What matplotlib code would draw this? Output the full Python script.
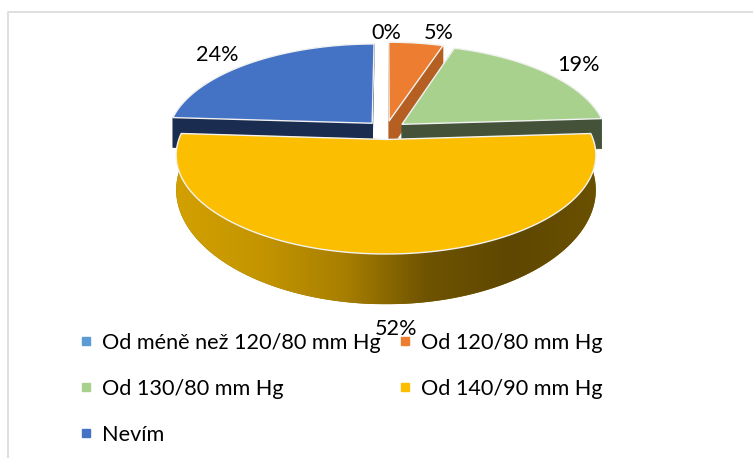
import numpy as np
import matplotlib
matplotlib.use('Agg')
import matplotlib.pyplot as plt
from matplotlib.lines import Line2D
from matplotlib.patches import Polygon
from matplotlib.colors import LinearSegmentedColormap

categories = ['Od méně než 120/80 mm Hg', 'Od 120/80 mm Hg', 'Od 130/80 mm Hg', 'Od 140/90 mm Hg', 'Nevím']
values = [0, 5, 19, 52, 24]
top_colors = ['#5B9BD5', '#ED7D31', '#A9D18E', '#FBBE00', '#4472C4']
side_colors = ['#2A4A68', '#B55F22', '#435238', '#8A6A00', '#1A2C50']

plt.rcParams['font.family'] = ['Lato', 'DejaVu Sans']
TEXT_SIZE = 15.6

# perspective settings of the pie, in pixels
CX, CY = 386, 130
BX, AY = 204, 93.5
K = 0.155
H = 31.5
EXPLODE = 0.1


def project(xd, yd, z=0.0):
    w = 1 + K*yd
    # rim gets thinner towards the back, faster than the plain perspective
    return CX + BX*xd/w, CY - AY*yd/w + H*z/w**2.5


def arc(t0, t1, ex, ey, z=0.0, n=120):
    t = np.linspace(t0, t1, n)
    return np.column_stack(project(ex + np.sin(t), ey + np.cos(t), z))


fig = plt.figure(figsize=(7.53, 4.58), dpi=100)
ax = fig.add_axes([0, 0, 1, 1])
ax.set_axis_off()

# chart frame
ax.plot([8, 8, 753], [458, 12, 12], color='#D9D9D9', lw=1.2)

edges = np.radians(np.cumsum([0] + values)*3.6)
slices = [(i, edges[i], edges[i+1]) for i in range(len(values)) if values[i] > 0]
# back slices first, the big front one last
slices.sort(key=lambda s: np.cos((s[1] + s[2])/2), reverse=True)

grad = LinearSegmentedColormap.from_list('rim', ['#D2A000', '#C49500', '#A87F00', '#6E5300', '#5E4700', '#6A5000'])

for n, (i, t0, t1) in enumerate(slices):
    z = 2 + n*0.1
    mid = (t0 + t1)/2
    ex, ey = EXPLODE*np.sin(mid), EXPLODE*np.cos(mid)
    apex = np.array(project(ex, ey))
    apex_low = np.array(project(ex, ey, 1.0))
    top_arc = arc(t0, t1, ex, ey)
    low_arc = arc(t0, t1, ex, ey, 1.0)

    # cut faces
    for j in (0, -1):
        ax.add_patch(Polygon([apex, top_arc[j], low_arc[j], apex_low], closed=True,
                             fc=side_colors[i], ec=side_colors[i], lw=0.5, zorder=z))

    # outer rim
    rim = np.vstack([top_arc, low_arc[::-1]])
    rim_patch = Polygon(rim, closed=True, fc=side_colors[i], ec='none', zorder=z)
    ax.add_patch(rim_patch)
    if values[i] == max(values):
        x0, x1 = rim[:, 0].min(), rim[:, 0].max()
        y0, y1 = rim[:, 1].min(), rim[:, 1].max()
        im = ax.imshow(np.linspace(0, 1, 256)[None, :], cmap=grad, aspect='auto',
                       extent=[x0, x1, y1, y0], zorder=z)
        im.set_clip_path(rim_patch)

    ax.add_patch(Polygon(np.vstack([apex, top_arc]), closed=True, fc=top_colors[i], ec='#F2F2F2',
                         lw=1.0, joinstyle='round', zorder=z+0.05))

ax.set_xlim(0, 753)
ax.set_ylim(458, 0)

# data labels
label_pos = [(386, 33), (439, 33), (578, 65), (396, 329), (217, 55)]
for v, (lx, ly) in zip(values, label_pos):
    ax.text(lx, ly, f'{v}%', ha='center', va='center', fontsize=TEXT_SIZE, color='black', zorder=6)

# legend fills by column, so feed it column by column
order = [0, 2, 4, 1, 3]
handles = [Line2D([], [], ls='none', marker='s', ms=5.8, color=top_colors[i], label=categories[i]) for i in order]
ax.legend(handles=handles, ncol=2, frameon=False, fontsize=TEXT_SIZE, loc='upper left',
          bbox_to_anchor=(75/753, 1-333/458), borderaxespad=0, borderpad=0,
          labelspacing=1.2, columnspacing=0.61, handlelength=1.0, handletextpad=0.24)

fig.savefig('out.png', dpi=100)
